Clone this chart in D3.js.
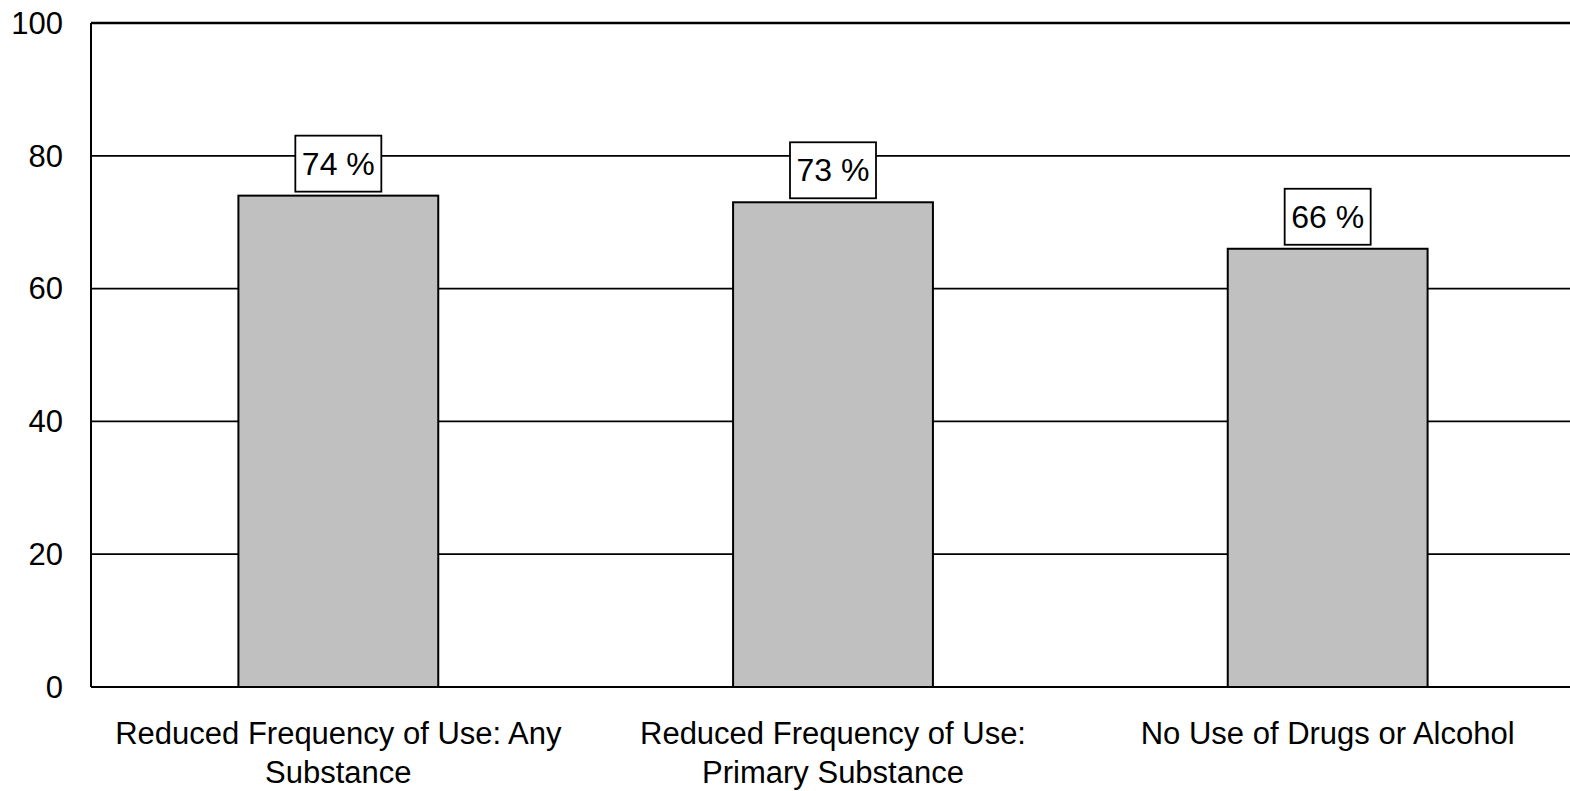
<!DOCTYPE html>
<html>
<head>
<meta charset="utf-8">
<script src="https://cdn.jsdelivr.net/npm/d3@7"></script>
<style>
  html, body { margin: 0; padding: 0; background: #fff; }
  svg { display: block; font-family: "Liberation Sans", Arial, sans-serif; }
</style>
</head>
<body>
<div id="chart"></div>
<script>
// values
const categories = [
  ["Reduced Frequency of Use: Any", "Substance"],
  ["Reduced Frequency of Use:", "Primary Substance"],
  ["No Use of Drugs or Alcohol"]
];
const values = [74, 73, 66];
const yTicks = [0, 20, 40, 60, 80, 100];

const W = 1570, H = 791;
const margin = { top: 23, right: -5, bottom: 104, left: 91 };
const iw = W - margin.left - margin.right;
const ih = H - margin.top - margin.bottom;

const svg = d3.select("#chart").append("svg")
  .attr("width", W).attr("height", H);
const g = svg.append("g").attr("transform", `translate(${margin.left},${margin.top})`);

const x = d3.scaleBand().domain(d3.range(values.length)).range([0, iw]).paddingInner(0.596).paddingOuter(0.298);
const y = d3.scaleLinear().domain([0, 100]).range([ih, 0]);

// gridlines
g.append("g").selectAll("line").data(yTicks).join("line")
  .attr("x1", 0).attr("x2", iw)
  .attr("y1", d => y(d)).attr("y2", d => y(d))
  .attr("stroke", "#000").attr("stroke-width", d => d === 100 ? 2.4 : 1.8);

// left axis
g.append("line").attr("x1", 0).attr("x2", 0).attr("y1", 0).attr("y2", ih)
  .attr("stroke", "#000").attr("stroke-width", 2);

// tick labels
g.append("g").selectAll("text").data(yTicks).join("text")
  .attr("x", -28).attr("y", d => y(d)).attr("dy", "0.35em")
  .attr("text-anchor", "end").attr("font-size", 31).text(d => d);

// bars
g.append("g").selectAll("rect").data(values).join("rect")
  .attr("x", (d, i) => x(i)).attr("width", x.bandwidth())
  .attr("y", d => y(d)).attr("height", d => ih - y(d))
  .attr("fill", "#c0c0c0").attr("stroke", "#000").attr("stroke-width", 2);

// bottom axis line on top of bars
g.append("line").attr("x1", 0).attr("x2", iw).attr("y1", ih).attr("y2", ih)
  .attr("stroke", "#000").attr("stroke-width", 2);

// value labels in boxes
const lab = g.append("g").selectAll("g").data(values).join("g")
  .attr("transform", (d, i) => `translate(${x(i) + x.bandwidth() / 2},${y(d) - 4})`);
lab.append("rect").attr("x", -43).attr("y", -56).attr("width", 86).attr("height", 56)
  .attr("fill", "#fff").attr("stroke", "#000").attr("stroke-width", 1.8);
lab.append("text").attr("y", -17).attr("text-anchor", "middle")
  .attr("font-size", 32).text(d => d + " %");

// category labels
const cl = g.append("g").selectAll("text").data(categories).join("text")
  .attr("transform", (d, i) => `translate(${x(i) + x.bandwidth() / 2},${ih + 57})`)
  .attr("text-anchor", "middle").attr("font-size", 31);
cl.selectAll("tspan").data(d => d).join("tspan")
  .attr("x", 0).attr("dy", (d, j) => j === 0 ? 0 : 39).text(d => d);
</script>
</body>
</html>
